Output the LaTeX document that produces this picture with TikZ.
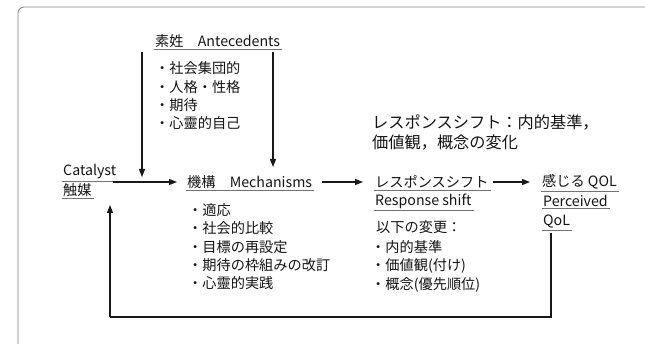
\documentclass[tikz,border=0pt]{standalone}
\usepackage{fontspec}
\setmainfont{Noto Sans CJK JP}
\usetikzlibrary{arrows.meta}
\begin{document}
\begin{tikzpicture}[x=1pt,y=-1pt,
  txt/.style={inner sep=0pt,anchor=west,font=\fontsize{14.2}{16}\selectfont,text=black!92},
  big/.style={inner sep=0pt,anchor=west,font=\fontsize{16.2}{19}\selectfont,text=black!92},
  uline/.style={draw=black!55,line width=0.8pt},
  arr/.style={draw=black!90,line width=1.3pt,-{Triangle[length=8pt,width=6pt]}},
  fb/.style={draw=black!90,line width=1.3pt},
  frame/.style={draw=black!50,line width=0.8pt,rounded corners=6pt}]
\useasboundingbox (0,0) rectangle (645,344);
\draw[frame] (18,344) -- (18,7) -- (645,7);

% Antecedents
\node[txt] (ant) at (155,41) {素姓\hspace{1em}Antecedents};
\node[txt] (a1) at (155,68) {・社会集団的};
\node[txt] (a2) at (155,87) {・人格・性格};
\node[txt] (a3) at (155,105) {・期待};
\node[txt] (a4) at (155,123) {・心靈的自己};

% Catalyst
\node[txt] (cat) at (63,172) {Catalyst};
\node[txt] (shok) at (63,190) {触媒};

% Mechanisms
\node[txt] (mech) at (187,182) {機構\hspace{1em}Mechanisms};
\node[txt] (m1) at (188,210) {・適応};
\node[txt] (m2) at (188,228) {・社会的比較};
\node[txt] (m3) at (188,247) {・目標の再設定};
\node[txt] (m4) at (188,265) {・期待の枠組みの改訂};
\node[txt] (m5) at (188,283) {・心靈的実践};

% Response shift
\node[big] (t1) at (372,122) {レスポンスシフト：内的基準，};
\node[big] (t2) at (372,143) {価値観，概念の変化};
\node[txt] (rs) at (375,182) {レスポンスシフト};
\node[txt] (rse) at (375,201) {Response shift};
\node[txt] (r0) at (376,227) {以下の変更：};
\node[txt] (r1) at (371,247) {・内的基準};
\node[txt] (r2) at (371,266) {・価値観(付け)};
\node[txt] (r3) at (371,285) {・概念(優先順位)};

% Perceived QoL
\node[txt] (pq) at (542,182) {感じる QOL};
\node[txt] (per) at (543,201) {Perceived};
\node[txt] (qol) at (543,222) {QoL};

% underlines
\foreach \n in {ant,cat,shok,mech,rs,rse,pq,per,qol}
  \draw[uline] ([xshift=-1pt,yshift=-1.5pt]\n.south west) -- ([xshift=2pt,yshift=-1.5pt]\n.south east);

% coordinates
\coordinate (dl1) at (142,52);
\coordinate (dl2) at (142,177);
\coordinate (dr1) at (273,52);
\coordinate (dr2) at (273,167);
\coordinate (c1) at (113,182);
\coordinate (c2) at (177,182);
\coordinate (f1) at (551,233);
\coordinate (f2) at (551,317);
\coordinate (f3) at (110,317);
\coordinate (f4) at (110,205);

\draw[arr] (dl1) -- (dl2);
\draw[arr] (dr1) -- (dr2);
\draw[arr] (c1) -- (c2);
\draw[arr] ([xshift=10pt]mech.east) -- ([xshift=-12pt]rs.west);
\draw[arr] ([xshift=4pt]rs.east) -- ([xshift=-12pt]pq.west);
\draw[fb] (f1) -- (f2) -- (f3);
\draw[arr] (f3) -- (f4);
\end{tikzpicture}
\end{document}
